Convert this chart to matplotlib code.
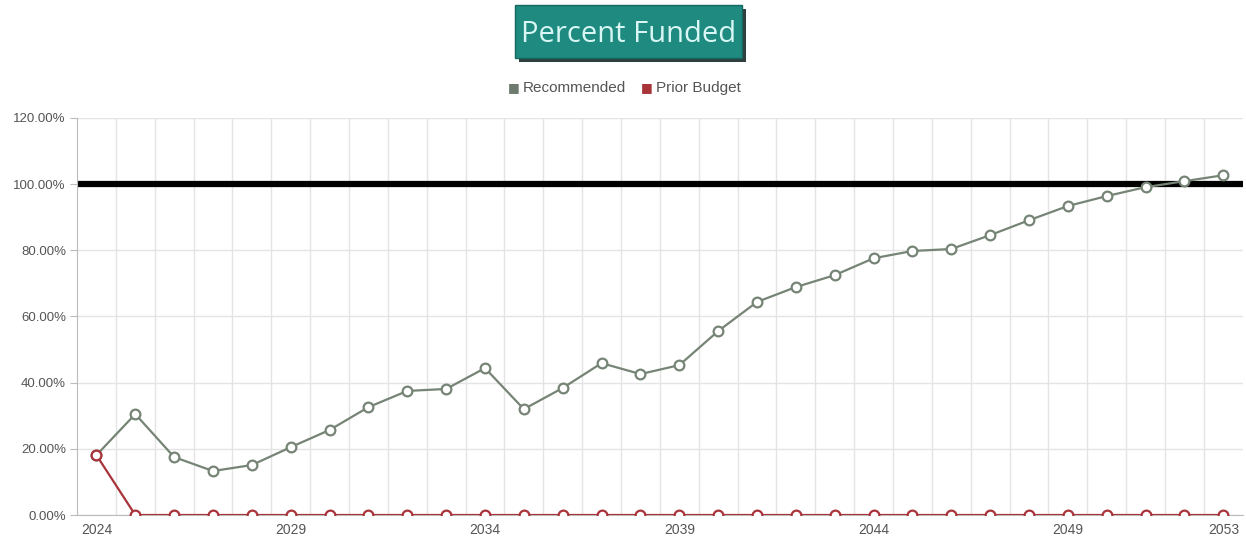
import matplotlib.pyplot as plt
from matplotlib.patches import Rectangle
import numpy as np

years = list(range(2024, 2054))
recommended = [18.1, 30.5, 17.5, 13.3, 15.1, 20.5, 25.7, 32.6, 37.5, 38.1,
               44.4, 32.0, 38.4, 45.9, 42.6, 45.3, 55.6, 64.4, 68.9, 72.5,
               77.6, 79.8, 80.4, 84.6, 89.1, 93.4, 96.4, 99.1, 100.9, 102.7]
prior_budget = [18.1] + [0.0] * 29
target = 100
yticks = [0, 20, 40, 60, 80, 100, 120]
xlabel_years = [2024, 2029, 2034, 2039, 2044, 2049, 2053]

green = '#768476'
red = '#a8343a'
grid = '#e4e4e4'
label_font = 'Liberation Sans'

fig = plt.figure(figsize=(12.46, 5.44), dpi=100)
ax = fig.add_axes([0.0618, 0.0533, 0.9356, 0.7298])

x = np.arange(len(years))
ax.set_xlim(-0.5, len(years) - 0.5)
ax.set_ylim(0, 120)

# grid: horizontal at ticks, vertical at band boundaries
for yv in yticks:
    ax.axhline(yv, color=grid, lw=1, zorder=0)
for b in np.arange(0.5, len(years) - 0.5, 1):
    ax.axvline(b, color=grid, lw=1, zorder=0)

ax.axhline(target, color='black', lw=4.5, zorder=2)

ax.plot(x, recommended, color=green, lw=1.6, marker='o', ms=7,
        mfc='white', mec=green, mew=1.6, zorder=3)
ax.plot(x, prior_budget, color=red, lw=1.6, marker='o', ms=7,
        mfc='white', mec=red, mew=1.6, zorder=4)

ax.set_yticks(yticks)
ax.set_yticklabels(['%.2f%%' % v for v in yticks], fontsize=9.5,
                   color='#555555', family=label_font)
ax.set_xticks([years.index(y) for y in xlabel_years])
ax.set_xticklabels([str(y) for y in xlabel_years], fontsize=10,
                   color='#555555', family=label_font)
ax.tick_params(axis='y', length=5, color='#bbbbbb', pad=3)
ax.tick_params(axis='x', length=0, pad=6)
for s in ['top', 'right']:
    ax.spines[s].set_visible(False)
ax.spines['left'].set_color('#bbbbbb')
ax.spines['bottom'].set_color('#bbbbbb')

# title box with drop shadow
bx, by, bw, bh = 515 / 1246, 1 - 58 / 544, 227 / 1246, 53 / 544
fig.patches.append(Rectangle((bx + 4 / 1246, by - 4 / 544), bw, bh,
                             transform=fig.transFigure, fc='#2e3f3d', ec='none', zorder=1))
fig.patches.append(Rectangle((bx, by), bw, bh, transform=fig.transFigure,
                             fc='#1f8a80', ec='#17665f', lw=1, zorder=2))
fig.text(bx + bw / 2, by + bh / 2 - 3 / 544, 'Percent Funded', ha='center',
         va='center', fontsize=21, color='#d8f6f3', family='Open Sans', zorder=3)

# legend
ly = 1 - 88 / 544
fig.text(508 / 1246, ly, '\u25a0', ha='left', va='center', fontsize=9, color='#6f7a6f')
fig.text(523 / 1246, ly, 'Recommended', ha='left', va='center', fontsize=11,
         color='#555555', family=label_font)
fig.text(641 / 1246, ly, '\u25a0', ha='left', va='center', fontsize=9, color=red)
fig.text(656 / 1246, ly, 'Prior Budget', ha='left', va='center', fontsize=11,
         color='#555555', family=label_font)

fig.savefig('out.png', dpi=100)
